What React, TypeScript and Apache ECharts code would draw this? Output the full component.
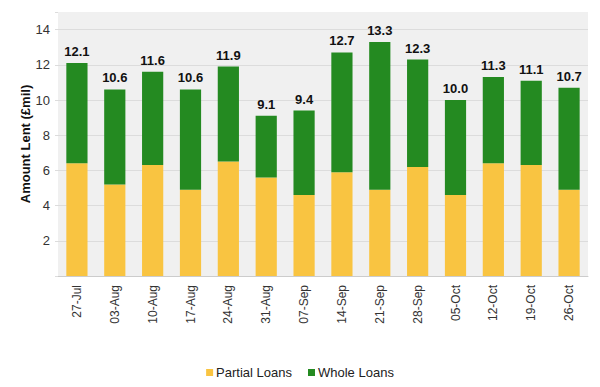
import React, { useEffect, useRef } from "react";
import * as echarts from "echarts";

const categories = ["27-Jul", "03-Aug", "10-Aug", "17-Aug", "24-Aug", "31-Aug", "07-Sep", "14-Sep", "21-Sep", "28-Sep", "05-Oct", "12-Oct", "19-Oct", "26-Oct"];
const totals = [12.1, 10.6, 11.6, 10.6, 11.9, 9.1, 9.4, 12.7, 13.3, 12.3, 10.0, 11.3, 11.1, 10.7];
const partialLoans = [6.4, 5.2, 6.3, 4.9, 6.5, 5.6, 4.6, 5.9, 4.9, 6.2, 4.6, 6.4, 6.3, 4.9];
const wholeLoans = [5.7, 5.4, 5.3, 5.7, 5.4, 3.5, 4.8, 6.8, 8.4, 6.1, 5.4, 4.9, 4.8, 5.8];

const FONT = "'Liberation Sans', Arial, sans-serif";

export default function App() {
  const ref = useRef<HTMLDivElement>(null);
  useEffect(() => {
    document.body.style.margin = "0";
    const chart = echarts.init(ref.current!, null, { renderer: "svg" });
    chart.setOption({
      animation: false,
      textStyle: { fontFamily: FONT },
      grid: {
        left: 58, right: 12, top: 12, bottom: 111,
        show: true, backgroundColor: "#f0f0f0", borderWidth: 0,
      },
      legend: {
        bottom: 3,
        left: "center",
        icon: "rect",
        itemWidth: 7,
        itemHeight: 7,
        itemGap: 16,
        textStyle: { fontSize: 13, color: "#222", fontFamily: FONT, padding: [0, 0, 0, -2] },
        data: ["Partial Loans", "Whole Loans"],
      },
      xAxis: {
        type: "category",
        data: categories,
        axisLine: { show: true, lineStyle: { color: "#cccccc", width: 1 } },
        axisTick: { show: false },
        axisLabel: { rotate: 90, fontSize: 12, color: "#333", margin: 9, fontFamily: FONT },
      },
      yAxis: {
        type: "value",
        min: 0,
        max: 15,
        interval: 2,
        name: "Amount Lent (£mil)",
        nameLocation: "middle",
        nameGap: 26,
        nameMoveOverlap: false,
        nameTextStyle: { fontSize: 13, fontWeight: "bold", color: "#111", fontFamily: FONT },
        axisLine: { show: false },
        axisTick: { show: true, length: 3, lineStyle: { color: "#dcdcdc" } },
        axisLabel: {
          fontSize: 13, color: "#333", margin: 8, fontFamily: FONT,
          formatter: (v: number) => (v === 0 || v % 2 !== 0 ? "" : String(v)),
        },
        splitLine: { show: true, showMinLine: false, showMaxLine: false, lineStyle: { color: "#dcdcdc" } },
      },
      series: [
        {
          name: "Partial Loans",
          type: "bar",
          stack: "total",
          data: partialLoans,
          barWidth: "56%",
          itemStyle: { color: "#F9C441" },
        },
        {
          name: "Whole Loans",
          type: "bar",
          stack: "total",
          data: wholeLoans,
          barWidth: "56%",
          itemStyle: { color: "#248A21" },
          label: {
            show: true,
            position: "top",
            distance: 5,
            fontSize: 13,
            fontWeight: "bold",
            color: "#111",
            fontFamily: FONT,
            formatter: (p: any) => totals[p.dataIndex].toFixed(1),
          },
        },
      ],
    });
    return () => chart.dispose();
  }, []);
  return <div ref={ref} style={{ width: 600, height: 387 }} />;
}
